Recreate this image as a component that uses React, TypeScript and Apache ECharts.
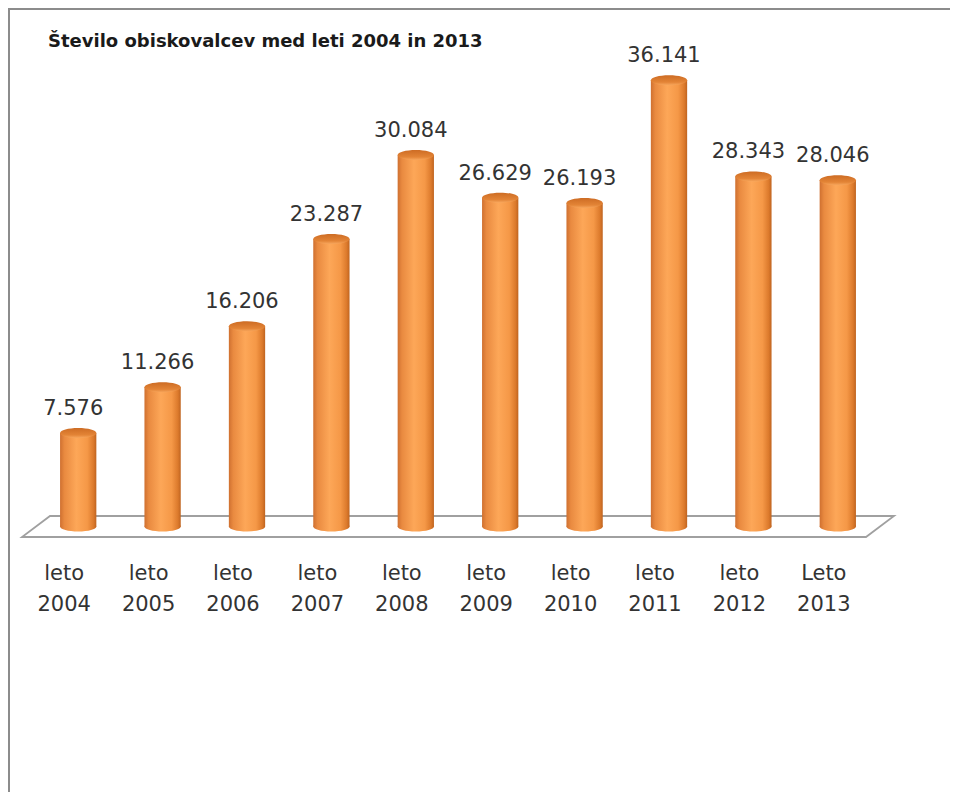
import React, { useEffect, useRef } from "react";
import * as echarts from "echarts";

const categories = [
  "leto\n2004", "leto\n2005", "leto\n2006", "leto\n2007", "leto\n2008",
  "leto\n2009", "leto\n2010", "leto\n2011", "leto\n2012", "Leto\n2013",
];
const visitors = [7576, 11266, 16206, 23287, 30084, 26629, 26193, 36141, 28343, 28046];
const titleText = "Število obiskovalcev med leti 2004 in 2013";

function fmt(v: number): string {
  const th = Math.floor(v / 1000);
  const rest = String(v % 1000).padStart(3, "0");
  return th > 0 ? th + "." + rest : String(v);
}

export default function App() {
  const ref = useRef<HTMLDivElement>(null);
  useEffect(() => {
    document.body.style.overflow = "hidden";
    document.documentElement.style.overflow = "hidden";
    const chart = echarts.init(ref.current!, null, { renderer: "svg" });
    const bodyGrad = new echarts.graphic.LinearGradient(0, 0, 1, 0, [
      { offset: 0, color: "#cf7030" },
      { offset: 0.12, color: "#e98a40" },
      { offset: 0.45, color: "#fda758" },
      { offset: 0.75, color: "#f59847" },
      { offset: 0.92, color: "#dc7a2c" },
      { offset: 1, color: "#bf6420" },
    ]);
    const topGrad = new echarts.graphic.LinearGradient(0, 0, 0, 1, [
      { offset: 0, color: "#cd6c24" },
      { offset: 0.7, color: "#e38436" },
      { offset: 1, color: "#f7a65c" },
    ]);
    chart.setOption({
      animation: false,
      backgroundColor: "#ffffff",
      title: {
        text: titleText,
        left: 33,
        top: 16,
        textStyle: {
          fontFamily: "DejaVu Sans",
          fontWeight: "bold",
          fontSize: 18,
          color: "#1a1a1a",
        },
      },
      grid: { left: 26, top: 22.5, width: 844, height: 494 },
      xAxis: {
        type: "category",
        data: categories,
        axisLine: { show: false },
        axisTick: { show: false },
        splitLine: { show: false },
        axisLabel: {
          interval: 0,
          margin: 31,
          fontFamily: "DejaVu Sans",
          fontSize: 21,
          lineHeight: 31,
          color: "#333333",
          padding: [0, 28, 0, 0],
        },
      },
      yAxis: {
        type: "value",
        min: 0,
        max: 40000,
        show: false,
      },
      series: [
        {
          type: "custom",
          z: 1,
          silent: true,
          data: [[0, 0]],
          renderItem: (params: any, api: any) => {
            const cs = params.coordSys;
            const y0 = api.coord([0, 0])[1];
            const d = 14;
            const h = 10.5;
            return {
              type: "polygon",
              shape: {
                points: [
                  [cs.x - d, y0 + h],
                  [cs.x + cs.width - d, y0 + h],
                  [cs.x + cs.width + d, y0 - h],
                  [cs.x + d, y0 - h],
                ],
              },
              style: { fill: "#ffffff", stroke: "#a0a0a0", lineWidth: 1.8 },
            };
          },
        },
        {
          type: "custom",
          z: 2,
          encode: { x: 0, y: 1 },
          data: visitors.map((v, i) => [i, v]),
          renderItem: (params: any, api: any) => {
            const idx = params.dataIndex;
            const val = api.value(1);
            const top = api.coord([api.value(0), val]);
            const base = api.coord([api.value(0), 0]);
            const bw = api.size([1, 0])[0] * 0.43;
            const rx = bw / 2;
            const ry = 5;
            const cx = top[0];
            return {
              type: "group",
              children: [
                {
                  type: "ellipse",
                  shape: { cx, cy: base[1], rx, ry },
                  style: { fill: bodyGrad },
                },
                {
                  type: "rect",
                  shape: { x: cx - rx, y: top[1], width: bw, height: base[1] - top[1] },
                  style: { fill: bodyGrad },
                },
                {
                  type: "ellipse",
                  shape: { cx, cy: top[1], rx, ry },
                  style: { fill: topGrad },
                },
                {
                  type: "text",
                  style: {
                    text: fmt(visitors[idx]),
                    x: cx - 5,
                    y: top[1] - 25,
                    align: "center",
                    verticalAlign: "middle",
                    fontFamily: "DejaVu Sans",
                    fontSize: 21,
                    fill: "#333333",
                  },
                },
              ],
            };
          },
        },
      ],
    });
    return () => chart.dispose();
  }, []);
  return (
    <div
      style={{
        width: 960,
        height: 784,
        borderTop: "2px solid #8c8c8c",
        borderLeft: "2px solid #8c8c8c",
      }}
    >
      <div ref={ref} style={{ width: 958, height: 782 }} />
    </div>
  );
}
